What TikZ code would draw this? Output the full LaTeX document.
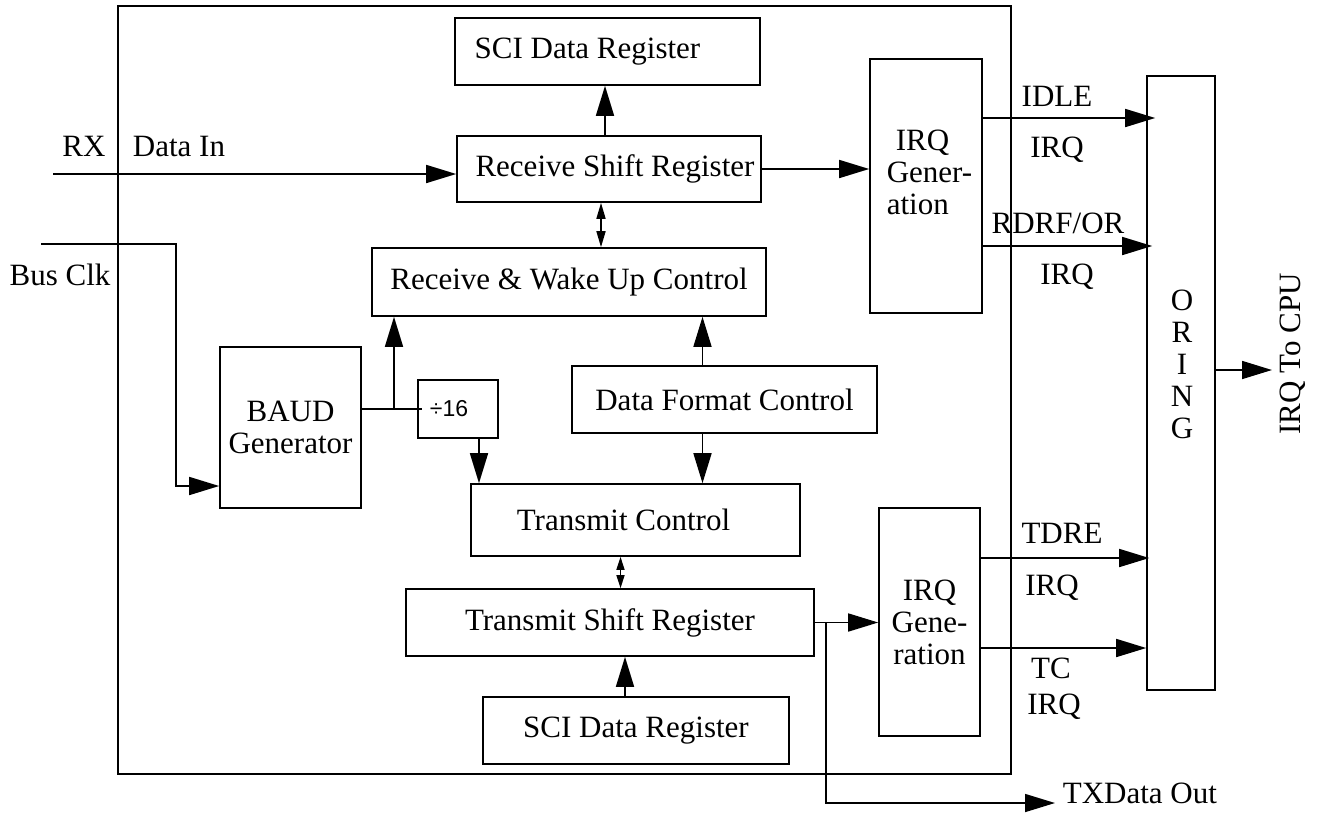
\documentclass[tikz,border=0pt]{standalone}
\usepackage{fontspec}
\setmainfont{Liberation Serif}
\newfontfamily\helv{Liberation Sans}
\usetikzlibrary{arrows.meta}
\begin{document}
\begin{tikzpicture}[x=1pt,y=-1pt,line width=1.6pt,
  every node/.style={font=\fontsize{31}{32}\selectfont},
  box/.style={draw,inner sep=0pt,line width=1.6pt},
  txt/.style={inner sep=0pt},
  arr/.style={-{Triangle[length=30pt,width=18pt]}},
  sdarr/.style={{Triangle[length=16pt,width=9pt]}-{Triangle[length=16pt,width=9pt]}},
  tdarr/.style={{Triangle[length=13pt,width=8pt]}-{Triangle[length=13pt,width=8pt]}}]
\useasboundingbox (0,0) rectangle (1320,812);
% boxes
\node[box,minimum width=893pt,minimum height=768pt] (frame) at (564.5,390) {};
\node[box,minimum width=305pt,minimum height=67pt] (sci1) at (607.5,51.5) {SCI Data Register\hspace*{40pt}};
\node[box,minimum width=304pt,minimum height=66pt] (rsr) at (609,169) {\hspace*{12pt}Receive Shift Register};
\node[box,minimum width=394pt,minimum height=68pt] (rwuc) at (569,282) {Receive \& Wake Up Control};
\node[box,minimum width=141pt,minimum height=161pt,align=center] (baud) at (290.5,427.5) {BAUD\\Generator};
\node[box,minimum width=80pt,minimum height=58pt] (div) at (458,409) {{\helv\fontsize{23}{25}\selectfont ÷16}\hspace*{18pt}};
\node[box,minimum width=305pt,minimum height=67pt] (dfc) at (724.5,399.5) {Data Format Control};
\node[box,minimum width=329pt,minimum height=72pt] (tc) at (635.5,520) {Transmit Control\hspace*{24pt}};
\node[box,minimum width=408pt,minimum height=67pt] (tsr) at (610,622.5) {Transmit Shift Register};
\node[box,minimum width=306pt,minimum height=67pt] (sci2) at (636,730.5) {SCI Data Register};
\node[box,minimum width=112pt,minimum height=254pt] (irqa) at (926,186) {};
\node[box,minimum width=101pt,minimum height=228pt,align=center] (irqb) at (929.5,622) {IRQ\\Gene-\\ration};
\node[box,minimum width=68pt,minimum height=614pt] (oring) at (1181,383) {};
% texts
\node[txt,align=left,anchor=west] (irqatxt) at (886,172) {\hspace*{9pt}IRQ\\Gener-\\ation};
\node[txt,align=center] (oringtxt) at (1182,364) {O\\R\\I\\N\\G};
\node[txt] (rx) at (84,146) {RX};
\node[txt] (datain) at (179,146) {Data In};
\node[txt] (busclk) at (60,275) {Bus Clk};
\node[txt] (idle) at (1057,96) {IDLE};
\node[txt] (irq1) at (1057,150) {IRQ};
\node[txt] (rdrf) at (1058,223) {RDRF/OR};
\node[txt] (irq2) at (1067,277) {IRQ};
\node[txt] (tdre) at (1062,533) {TDRE};
\node[txt] (irq3) at (1052,588) {IRQ};
\node[txt] (tcl) at (1051,668) {TC};
\node[txt] (irq4) at (1054,707) {IRQ};
\node[txt,anchor=base west] (txout) at (1062,803) {TXData Out};
\node[txt,rotate=90] (tocpu) at (1293,354) {IRQ To CPU};
% coordinates
\coordinate (rxin) at (53,174);
\coordinate (bclk) at (41,244);
\coordinate (bturn) at (176,486);
\coordinate (br1) at (394,409);
\coordinate (br2) at (826,622);
\coordinate (yidle) at (0,118);
\coordinate (yrdrf) at (0,246);
\coordinate (ytdre) at (0,558);
\coordinate (ytc) at (0,648);
\coordinate (cpu) at (1272,370);
% connectors
\draw[arr] (rxin) -- (rsr.west |- rxin);
\draw[arr] (bclk) -| (bturn) -- (baud.west |- bturn);
\draw[arr] ([xshift=-4pt]rsr.north) -- ([xshift=-4pt]rsr.north |- sci1.south);
\draw[sdarr] ([xshift=-8pt]rsr.south) -- ([xshift=-8pt]rsr.south |- rwuc.north);
\draw (baud.east |- div.west) -- ([xshift=5pt]div.west);
\draw[arr] (br1) -- (br1 |- rwuc.south);
\draw[arr] ([xshift=21pt]div.south) -- ([xshift=21pt]div.south |- tc.north);
\draw[arr] ([xshift=-22pt]dfc.north) -- ([xshift=-22pt]dfc.north |- rwuc.south);
\draw[arr] ([xshift=-22pt]dfc.south) -- ([xshift=-22pt]dfc.south |- tc.north);
\draw[tdarr] ([xshift=-15pt]tc.south) -- ([xshift=-15pt]tc.south |- tsr.north);
\draw[arr] ([xshift=-11pt]sci2.north) -- ([xshift=-11pt]sci2.north |- tsr.south);
\draw[arr] (tsr.east) -- (irqb.west |- tsr.east);
\draw[arr] (br2) |- ([xshift=-7pt]txout.base west);
\draw[arr] (rsr.east) -- (irqa.west |- rsr.east);
\draw[arr,shorten >=-9pt] (irqa.east |- yidle) -- (oring.west |- yidle);
\draw[arr,shorten >=-6pt] (irqa.east |- yrdrf) -- (oring.west |- yrdrf);
\draw[arr,shorten >=-3pt] (irqb.east |- ytdre) -- (oring.west |- ytdre);
\draw[arr] (irqb.east |- ytc) -- (oring.west |- ytc);
\draw[arr] (oring.east |- cpu) -- (cpu);
\end{tikzpicture}
\end{document}
